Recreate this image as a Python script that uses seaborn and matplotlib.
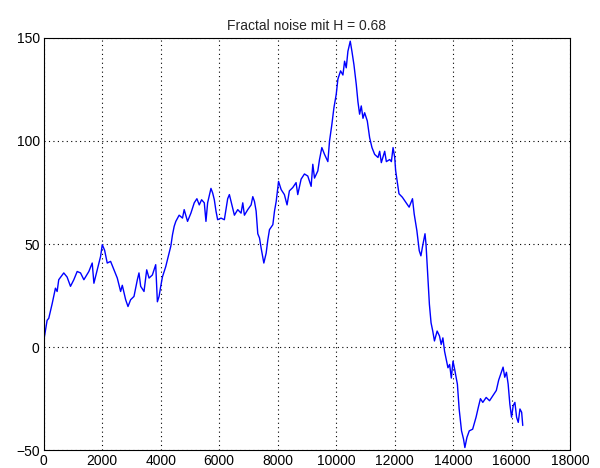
import numpy as np
import pandas as pd
import matplotlib
matplotlib.use('Agg')
import matplotlib.pyplot as plt
import seaborn as sns

# values
sample = [0, 21, 113, 170, 285, 398, 456, 511, 683, 797, 913, 1027, 1142, 1256, 1371,
          1541, 1656, 1714, 1828, 1942, 2000, 2080, 2170, 2285, 2400, 2514, 2628, 2685,
          2800, 2880, 2970, 3085, 3200, 3256, 3314, 3428, 3520, 3600, 3714, 3828, 3885,
          3943, 4000, 4057, 4170, 4285,
          4345, 4402, 4460, 4516, 4630, 4745, 4802, 4917, 5032, 5146, 5237, 5318, 5398,
          5490, 5547, 5604, 5718, 5776, 5833, 5890, 5947, 6062, 6176, 6290, 6348, 6405,
          6462, 6520, 6634, 6748, 6806, 6863, 6977, 7092, 7149, 7206, 7263, 7320, 7378,
          7435, 7527, 7606, 7663, 7720, 7835, 7892, 7950, 8030, 8120,
          8230, 8321, 8401, 8516, 8630, 8687, 8802, 8916, 9030, 9145, 9202, 9260, 9374,
          9431, 9511, 9603, 9717, 9774, 9854, 9923, 10003, 10060, 10152, 10232, 10289,
          10346, 10403, 10483, 10540, 10609, 10689, 10746, 10803, 10860, 10918, 10975,
          11066, 11146, 11226, 11318, 11432, 11489, 11546, 11661, 11718, 11832, 11890,
          11947, 12004,
          12035, 12150, 12266, 12381, 12497, 12612, 12670, 12762, 12843, 12900, 12958,
          13040, 13074, 13132, 13190, 13247, 13305, 13363, 13455, 13536, 13594, 13652,
          13709, 13825, 13882, 13940, 13998, 14056, 14148,
          14208, 14289, 14358, 14404, 14474, 14555, 14670, 14786, 14867, 14936, 15017,
          15133, 15248, 15364, 15480, 15560, 15630, 15711, 15768, 15826, 15884, 15942,
          16000, 16057, 16115, 16173, 16230, 16288, 16346, 16384]
noise = [2, 5, 13, 14, 21, 28.6, 27, 32.7, 36, 34, 29.5, 32.7, 36.7, 36, 32.7,
         36.7, 40.8, 31, 37.5, 44, 49.7, 47, 40.8, 41.6, 37.5, 33.5, 27, 30,
         23, 19.7, 23, 24.6, 32.7, 36, 29.5, 27, 37.5, 33.5, 35, 40, 22,
         24.6, 29.5, 34, 39, 45.6,
         49, 54.5, 58.6, 61, 64, 62.6, 66.7, 61, 65, 70, 72, 69, 71.5,
         70, 61, 70, 77, 74.8, 71.5, 66, 61.8, 62.6, 61.8, 72, 74, 70.7,
         67.5, 64, 66.7, 65, 70, 64, 66.7, 69, 73, 70.7, 66, 55, 53,
         48, 40.8, 45.6, 52, 57, 59.4, 66, 70.7, 80.4, 76.4,
         74, 69, 75.8, 77.4, 79.8, 74, 81.5, 84, 83, 78, 88.7, 82, 85.5,
         91, 96.8, 93.5, 90, 100, 108, 116, 122.6, 130, 134, 132, 138.7,
         135.5, 143.5, 148.4, 143.5, 137, 127.4, 119, 113, 117, 111, 113.7,
         109.7, 101.6, 96.8, 93.5, 92, 95, 89.5, 95, 90, 91, 90,
         96.8, 92,
         85.7, 74.4, 72.7, 70.3, 67.9, 72, 64.6, 56.5, 46.8, 44.3, 49,
         55, 50, 35.4, 20.8, 11.8, 7.8, 3, 7.8, 5.4, 1.3, 4.5,
         -2, -10, -8.4, -15, -6.8, -10.9, -18,
         -30, -40.6, -44.6, -48.7, -43.8, -40.6, -39.8, -34, -29, -25, -26.8,
         -24.4, -26, -23.5, -21, -16, -13, -9.7, -14.6, -12.2, -17.9, -27.6,
         -34, -28.4, -26.8, -34, -36.5, -30, -31.6, -38]

xticks = [0, 2000, 4000, 6000, 8000, 10000, 12000, 14000, 16000, 18000]
yticks = [-50, 0, 50, 100, 150]

df = pd.DataFrame({'n': sample, 'v': noise})

sns.set_style('white')
plt.rcParams['font.family'] = ['Liberation Sans', 'DejaVu Sans']

fig = plt.figure(figsize=(6, 4.68), dpi=100)
ax = fig.add_axes([0.073, 0.038, 0.877, 0.881])

sns.lineplot(data=df, x='n', y='v', color='#0000ff', lw=1.0, estimator=None, sort=False, ax=ax)

ax.set_xlim(0, 18000)
ax.set_ylim(-50, 150)
ax.set_xticks(xticks)
ax.set_yticks(yticks)
ax.grid(True, color='black', linestyle=(0, (1, 3)), linewidth=0.8)
ax.tick_params(direction='in', length=4, width=0.8, labelsize=10, colors='black', pad=3)
for s in ax.spines.values():
    s.set_color('black')
    s.set_linewidth(0.8)
ax.set_xlabel('')
ax.set_ylabel('')
ax.set_title('Fractal noise mit H = 0.68', fontsize=10, pad=6)

fig.savefig('out.png', dpi=100)
